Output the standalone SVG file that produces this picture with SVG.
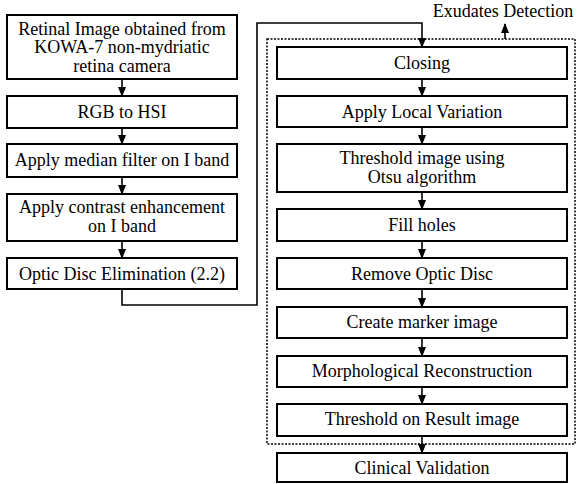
<svg xmlns="http://www.w3.org/2000/svg" width="578" height="484" viewBox="0 0 578 484">
<style>
.box{fill:#fff;stroke:#000;stroke-width:2}
.t{font-family:"Liberation Serif","Times New Roman",serif;font-size:18px;fill:#000;text-anchor:middle}
.c{fill:none;stroke:#000;stroke-width:1.6}
</style>
<defs>
<marker id="ah" markerWidth="10" markerHeight="8" refX="9" refY="4" orient="auto" markerUnits="userSpaceOnUse">
<path d="M0,0 L10,4 L0,8 Z" fill="#000"/>
</marker>
</defs>
<rect width="578" height="484" fill="#fff"/>
<rect x="267" y="39" width="308" height="405" fill="none" stroke="#000" stroke-width="1.5" stroke-dasharray="2,1.5"/>
<g id="connectors">
<line class="c" x1="122" y1="79" x2="122" y2="96" marker-end="url(#ah)"/>
<line class="c" x1="122" y1="128" x2="122" y2="144" marker-end="url(#ah)"/>
<line class="c" x1="122" y1="177" x2="122" y2="194" marker-end="url(#ah)"/>
<line class="c" x1="122" y1="241" x2="122" y2="258" marker-end="url(#ah)"/>
<polyline class="c" points="122,289 122,305 257,305 257,23 422,23 422,47" marker-end="url(#ah)"/>
<line class="c" x1="422" y1="79" x2="422" y2="96" marker-end="url(#ah)"/>
<line class="c" x1="422" y1="127" x2="422" y2="144" marker-end="url(#ah)"/>
<line class="c" x1="422" y1="192" x2="422" y2="209" marker-end="url(#ah)"/>
<line class="c" x1="422" y1="241" x2="422" y2="258" marker-end="url(#ah)"/>
<line class="c" x1="422" y1="289" x2="422" y2="307" marker-end="url(#ah)"/>
<line class="c" x1="422" y1="338" x2="422" y2="356" marker-end="url(#ah)"/>
<line class="c" x1="422" y1="387" x2="422" y2="404" marker-end="url(#ah)"/>
<line class="c" x1="422" y1="436" x2="422" y2="453" marker-end="url(#ah)"/>
<line class="c" x1="505" y1="39" x2="505" y2="24" marker-end="url(#ah)"/>
</g>
<g id="exudates-label"><text class="t" x="503" y="17" style="font-size:18px">Exudates Detection</text></g>
<g id="n1"><rect class="box" x="7" y="15" width="230" height="64"/><text class="t" x="122" y="34.5">Retinal Image obtained from</text><text class="t" x="122" y="53">KOWA-7 non-mydriatic</text><text class="t" x="122" y="71.5">retina camera</text></g>
<g id="n2"><rect class="box" x="7" y="96" width="230" height="32"/><text class="t" x="122" y="118">RGB to HSI</text></g>
<g id="n3"><rect class="box" x="7" y="144" width="230" height="33"/><text class="t" x="122" y="166">Apply median filter on I band</text></g>
<g id="n4"><rect class="box" x="7" y="194" width="230" height="47"/><text class="t" x="122" y="212.5">Apply contrast enhancement</text><text class="t" x="122" y="231.5">on I band</text></g>
<g id="n5"><rect class="box" x="7" y="258" width="230" height="31"/><text class="t" x="122" y="280">Optic Disc Elimination (2.2)</text></g>
<g id="r1"><rect class="box" x="277" y="47" width="290" height="32"/><text class="t" x="422" y="69">Closing</text></g>
<g id="r2"><rect class="box" x="277" y="96" width="290" height="31"/><text class="t" x="422" y="118">Apply Local Variation</text></g>
<g id="r3"><rect class="box" x="277" y="144" width="290" height="48"/><text class="t" x="422" y="164">Threshold image using</text><text class="t" x="422" y="183">Otsu algorithm</text></g>
<g id="r4"><rect class="box" x="277" y="209" width="290" height="32"/><text class="t" x="422" y="231">Fill holes</text></g>
<g id="r5"><rect class="box" x="277" y="258" width="290" height="31"/><text class="t" x="422" y="280">Remove Optic Disc</text></g>
<g id="r6"><rect class="box" x="277" y="307" width="290" height="31"/><text class="t" x="422" y="328">Create marker image</text></g>
<g id="r7"><rect class="box" x="277" y="356" width="290" height="31"/><text class="t" x="422" y="377">Morphological Reconstruction</text></g>
<g id="r8"><rect class="box" x="277" y="404" width="290" height="32"/><text class="t" x="422" y="425">Threshold on Result image</text></g>
<g id="r9"><rect class="box" x="277" y="453" width="290" height="29"/><text class="t" x="422" y="474">Clinical Validation</text></g>
</svg>
